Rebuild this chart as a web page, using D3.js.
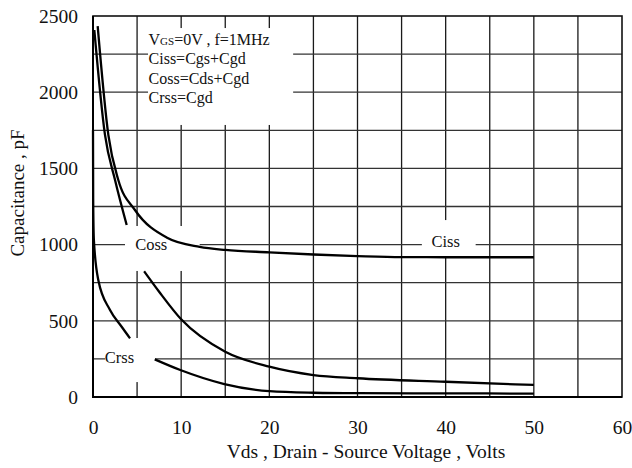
<!DOCTYPE html>
<html>
<head>
<meta charset="utf-8">
<script src="https://cdn.jsdelivr.net/npm/d3@7"></script>
<style>
  body { margin: 0; background: #fff; }
  svg text { font-family: "Liberation Serif", "Times New Roman", serif; fill: #111; }
</style>
</head>
<body>
<div id="chart"></div>
<script>
// capacitance vs drain-source voltage

const xTicks = [0, 10, 20, 30, 40, 50, 60];
const yTicks = [0, 500, 1000, 1500, 2000, 2500];
const xGrid = [5, 10, 15, 20, 25, 30, 35, 40, 45, 50, 55];
const yGrid = [250, 500, 750, 1000, 1250, 1500, 1750, 2000, 2250];

// null = gap in the printed curve (under a label)
const cissV = [0.53, 1.74, 2.87, 4.76, 8.4, 12.1, 15, 20, 25, 30, 35, 40, 50];
const cissC = [2434, 1720, 1424, 1227, 1045, 985, 965, 949, 935, 925, 918, 917, 917];

const cossV = [0.15, 1.36, 2.5, 3.82, null, 5.8, 7.5, 10, 15, 20, 25, 30, 40, 50];
const cossC = [2408, 1720, 1424, 1129, null, 825, 691, 510, 297, 199, 144, 123, 100, 79];

const crssV = [0, 0.02, 0.1, 0.6, 1.93, 3.25, 4.2, null, 7.0, 9.9, 14.9, 20, 25, 30, 40, 50];
const crssC = [1750, 1300, 1030, 768, 571, 461, 385, null, 247, 177, 85, 38, 28, 25, 24, 22];

const curveNames = ["Ciss", "Coss", "Crss"];
const noteLines = ["Ciss=Cgs+Cgd", "Coss=Cds+Cgd", "Crss=Cgd"];

const W = 632, H = 468;
const margin = { top: 16, right: 10, bottom: 71, left: 93 };

const x = d3.scaleLinear().domain([0, 60]).range([margin.left, W - margin.right]);
const y = d3.scaleLinear().domain([0, 2500]).range([H - margin.bottom, margin.top]);

const svg = d3.select('#chart').append('svg')
  .attr('width', W)
  .attr('height', H);

// grid
svg.append('g').selectAll('line')
  .data(xGrid)
  .enter().append('line')
  .attr('x1', d => x(d)).attr('x2', d => x(d))
  .attr('y1', y(0)).attr('y2', y(2500))
  .attr('stroke', '#1a1a1a').attr('stroke-width', 1.3);

svg.append('g').selectAll('line')
  .data(yGrid)
  .enter().append('line')
  .attr('x1', x(0)).attr('x2', x(60))
  .attr('y1', d => y(d)).attr('y2', d => y(d))
  .attr('stroke', '#333').attr('stroke-width', 1.3);

// frame
svg.append('rect')
  .attr('x', x(0)).attr('y', y(2500))
  .attr('width', x(60) - x(0)).attr('height', y(0) - y(2500))
  .attr('fill', 'none').attr('stroke', '#111').attr('stroke-width', 1.6);
svg.append('path')
  .attr('d', `M${x(0)},${y(2500)}V${y(0)}H${x(60)}`)
  .attr('fill', 'none').attr('stroke', '#000').attr('stroke-width', 2);

// white patches behind the labels (data units)
const masks = [
  { v0: 6.24, v1: 22.7, c0: 1785, c1: 2421 }, // note block
  { v0: 3.63, v1: 12.1, c0: 827, c1: 1122 },  // Coss
  { v0: 1.36, v1: 7.03, c0: 98, c1: 387 },    // Crss
  { v0: 37.3, v1: 43.4, c0: 925, c1: 1161 },  // Ciss
];
svg.append('g').selectAll('rect')
  .data(masks)
  .enter().append('rect')
  .attr('x', d => x(d.v0)).attr('y', d => y(d.c1))
  .attr('width', d => x(d.v1) - x(d.v0))
  .attr('height', d => y(d.c0) - y(d.c1))
  .attr('fill', '#fff');

// curves
const toPoints = (vs, cs) => vs.map((v, i) => ({ v: v, c: cs[i] }));
const series = [toPoints(cissV, cissC), toPoints(cossV, cossC), toPoints(crssV, crssC)];

const line = d3.line()
  .defined(d => d.v != null && d.c != null)
  .x(d => x(d.v))
  .y(d => y(d.c))
  .curve(d3.curveMonotoneX);

svg.append('g').selectAll('path')
  .data(series)
  .enter().append('path')
  .attr('d', line)
  .attr('fill', 'none')
  .attr('stroke', '#000')
  .attr('stroke-width', 2.3)
  .attr('stroke-linejoin', 'round');

// axes (labels only)
const xAxis = svg.append('g')
  .attr('transform', `translate(0,${y(0)})`)
  .call(d3.axisBottom(x).tickValues(xTicks).tickFormat(d3.format('d')).tickSize(0).tickPadding(23));
const yAxis = svg.append('g')
  .attr('transform', `translate(${x(0)},0)`)
  .call(d3.axisLeft(y).tickValues(yTicks).tickFormat(d3.format('d')).tickSize(0).tickPadding(15));
[xAxis, yAxis].forEach(g => {
  g.select('.domain').remove();
  g.selectAll('text')
    .style('font-family', '"Liberation Serif", serif')
    .style('font-size', '19.5px')
    .attr('fill', '#111');
});

svg.append('text')
  .attr('x', 366).attr('y', 458)
  .attr('text-anchor', 'middle')
  .style('font-size', '19.5px')
  .text('Vds , Drain - Source Voltage , Volts');

svg.append('text')
  .attr('transform', 'translate(24,193) rotate(-90)')
  .attr('text-anchor', 'middle')
  .style('font-size', '19px')
  .text('Capacitance , pF');

// curve labels
const labelPos = [{ v: 40, c: 985 }, { v: 6.6, c: 965 }, { v: 3.0, c: 225 }];
svg.append('g').selectAll('text')
  .data(curveNames)
  .enter().append('text')
  .attr('x', (d, i) => x(labelPos[i].v))
  .attr('y', (d, i) => y(labelPos[i].c))
  .attr('text-anchor', 'middle')
  .style('font-size', '16.5px')
  .attr('fill', '#222')
  .text(d => d);

// test conditions note
const note = svg.append('g').style('font-size', '16px');
const first = note.append('text').attr('x', x(6.3)).attr('y', 45);
first.append('tspan').text('V');
first.append('tspan').style('font-size', '11px').text('GS');
first.append('tspan').text('=0V , f=1MHz');
note.selectAll('text.ln')
  .data(noteLines)
  .enter().append('text')
  .attr('class', 'ln')
  .attr('x', x(6.3))
  .attr('y', (d, i) => 64 + i * 19.5)
  .text(d => d);
</script>
</body>
</html>
